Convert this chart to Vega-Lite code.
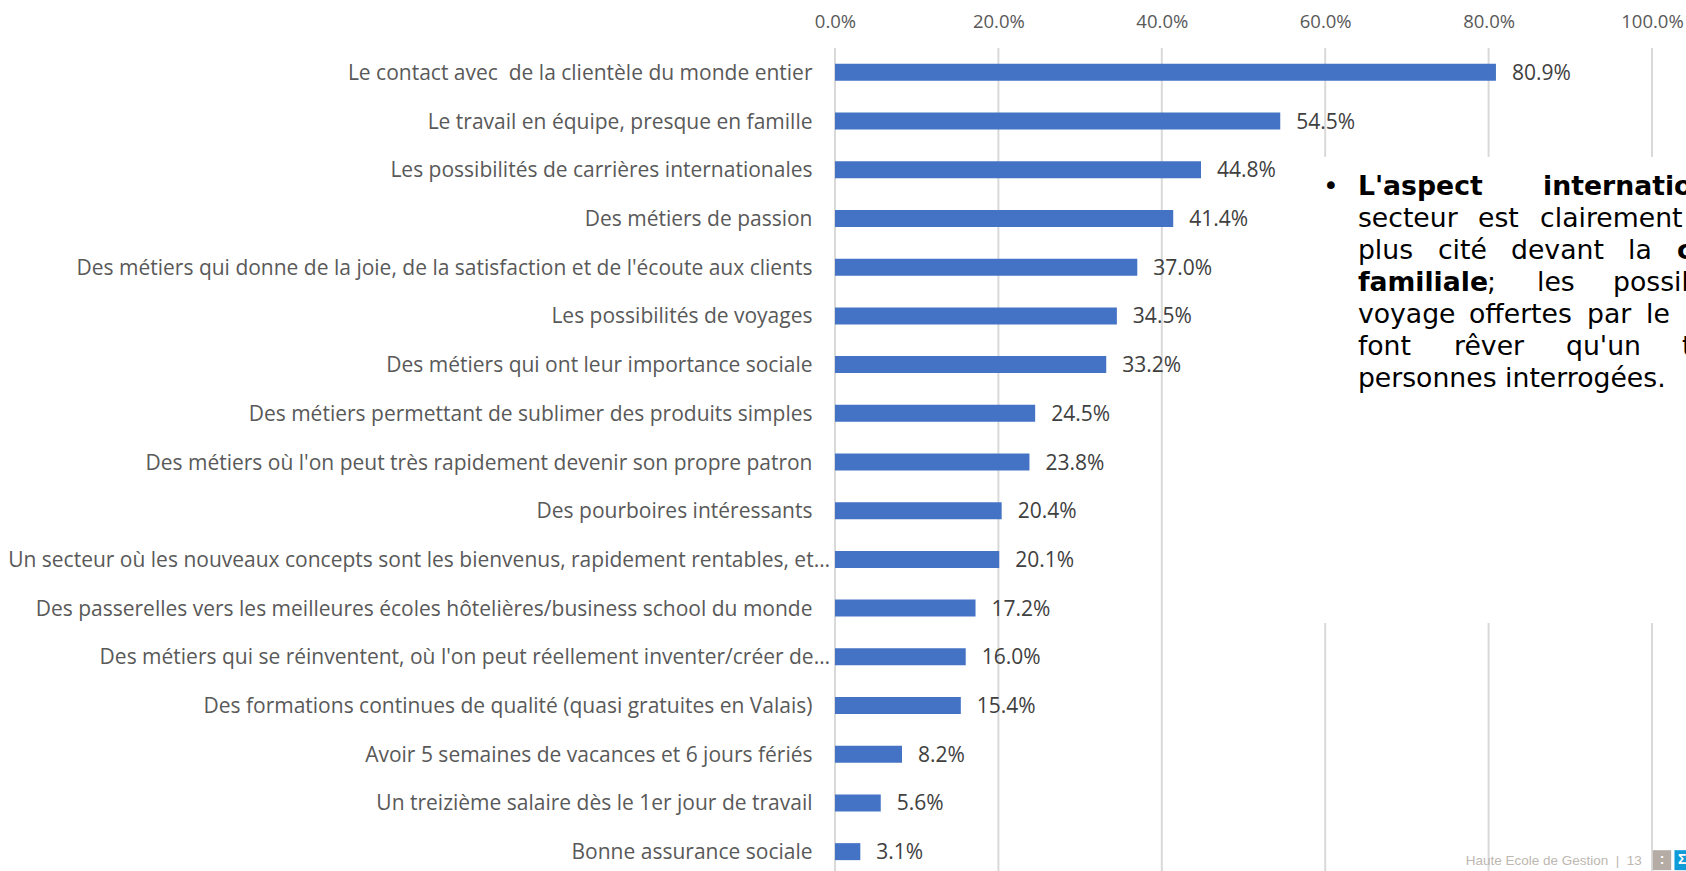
{
  "$schema": "https://vega.github.io/schema/vega-lite/v6.json",
  "autosize": "none",
  "width": 817,
  "height": 823,
  "padding": {"left": 835, "top": 48, "right": 34, "bottom": 0},
  "background": "white",
  "config": {"view": {"stroke": null}},
  "datasets": {
    "reasons": [
      {"motif": "Le contact avec\u00a0 de la clientèle du monde entier", "part": 0.809},
      {"motif": "Le travail en équipe, presque en famille", "part": 0.545},
      {"motif": "Les possibilités de carrières internationales", "part": 0.448},
      {"motif": "Des métiers de passion", "part": 0.414},
      {"motif": "Des métiers qui donne de la joie, de la satisfaction et de l'écoute aux clients", "part": 0.37},
      {"motif": "Les possibilités de voyages", "part": 0.345},
      {"motif": "Des métiers qui ont leur importance sociale", "part": 0.332},
      {"motif": "Des métiers permettant de sublimer des produits simples", "part": 0.245},
      {"motif": "Des métiers où l'on peut très rapidement devenir son propre patron", "part": 0.238},
      {"motif": "Des pourboires intéressants", "part": 0.204},
      {"motif": "Un secteur où les nouveaux concepts sont les bienvenus, rapidement rentables, et…", "part": 0.201},
      {"motif": "Des passerelles vers les meilleures écoles hôtelières/business school du monde", "part": 0.172},
      {"motif": "Des métiers qui se réinventent, où l'on peut réellement inventer/créer de…", "part": 0.16},
      {"motif": "Des formations continues de qualité (quasi gratuites en Valais)", "part": 0.154},
      {"motif": "Avoir 5 semaines de vacances et 6 jours fériés", "part": 0.082},
      {"motif": "Un treizième salaire dès le 1er jour de travail", "part": 0.056},
      {"motif": "Bonne assurance sociale", "part": 0.031}
    ],
    "grid": [
      {"tick": 0, "from": 0, "to": 17},
      {"tick": 0.2, "from": 0, "to": 17},
      {"tick": 0.4, "from": 0, "to": 17},
      {"tick": 0.6, "from": 0, "to": 2.236},
      {"tick": 0.6, "from": 11.805, "to": 17},
      {"tick": 0.8, "from": 0, "to": 2.236},
      {"tick": 0.8, "from": 11.805, "to": 17},
      {"tick": 1, "from": 0, "to": 2.236},
      {"tick": 1, "from": 11.805, "to": 17}
    ],
    "commentary": [
      {"word": "•", "at": 0.5973, "row": 3.01, "weight": "normal"},
      {"word": "L'aspect", "at": 0.64, "row": 3.01, "weight": "bold"},
      {"word": "international", "at": 0.8666, "row": 3.01, "weight": "bold"},
      {"word": "secteur", "at": 0.64, "row": 3.667, "weight": "normal"},
      {"word": "est", "at": 0.787, "row": 3.667, "weight": "normal"},
      {"word": "clairement", "at": 0.863, "row": 3.667, "weight": "normal"},
      {"word": "plus", "at": 0.64, "row": 4.324, "weight": "normal"},
      {"word": "cité", "at": 0.738, "row": 4.324, "weight": "normal"},
      {"word": "devant", "at": 0.8274, "row": 4.324, "weight": "normal"},
      {"word": "la", "at": 0.9706, "row": 4.324, "weight": "normal"},
      {"word": "c", "at": 1.0306, "row": 4.324, "weight": "bold"},
      {"word": "familiale", "at": 0.64, "row": 4.981, "weight": "bold"},
      {"word": ";", "at": 0.798, "row": 4.981, "weight": "normal"},
      {"word": "les", "at": 0.8592, "row": 4.981, "weight": "normal"},
      {"word": "possibilités", "at": 0.9523, "row": 4.981, "weight": "normal"},
      {"word": "voyage", "at": 0.64, "row": 5.638, "weight": "normal"},
      {"word": "offertes", "at": 0.776, "row": 5.638, "weight": "normal"},
      {"word": "par", "at": 0.9204, "row": 5.638, "weight": "normal"},
      {"word": "le", "at": 0.9927, "row": 5.638, "weight": "normal"},
      {"word": "secteur", "at": 1.0404, "row": 5.638, "weight": "normal"},
      {"word": "font", "at": 0.64, "row": 6.295, "weight": "normal"},
      {"word": "rêver", "at": 0.7577, "row": 6.295, "weight": "normal"},
      {"word": "qu'un", "at": 0.8947, "row": 6.295, "weight": "normal"},
      {"word": "tiers", "at": 1.0367, "row": 6.295, "weight": "normal"},
      {"word": "personnes interrogées.", "at": 0.64, "row": 6.952, "weight": "normal"}
    ],
    "badges": [
      {"start": 1.001, "end": 1.0235, "top": 16.47, "bottom": 16.88, "kind": "grey", "glyph": ":", "centre": 1.0122},
      {"start": 1.0275, "end": 1.05, "top": 16.47, "bottom": 16.88, "kind": "blue", "glyph": "Σ", "centre": 1.037}
    ]
  },
  "resolve": {"scale": {"y": "independent"}, "axis": {"x": "independent"}},
  "layer": [
    {
      "data": {"name": "grid"},
      "mark": {"type": "rule", "color": "#D9D9D9", "strokeWidth": 2},
      "encoding": {
        "x": {"field": "tick", "type": "quantitative", "scale": {"domain": [0, 1], "range": [0, 817]}, "axis": {"orient": "top", "values": [0, 0.2, 0.4, 0.6, 0.8, 1], "format": ".1%", "title": null, "grid": false, "domain": false, "ticks": false, "labelPadding": 17, "labelFontSize": 18.5, "labelFont": "Open Sans", "labelColor": "#595959", "labelFlush": false, "labelOverlap": false}},
        "y": {"field": "from", "type": "quantitative", "scale": {"domain": [0, 17], "range": [0, 828]}, "axis": null},
        "y2": {"field": "to"}
      }
    },
    {
      "data": {"name": "reasons"},
      "encoding": {
        "y": {"field": "motif", "type": "nominal", "sort": null, "scale": {"range": [0, 828], "paddingInner": 0.651, "paddingOuter": 0.3255}, "axis": {"title": null, "domain": false, "ticks": false, "grid": false, "labelPadding": 23, "labelOffset": 1.5, "labelLimit": 900, "labelFontSize": 21, "labelFont": "Open Sans", "labelColor": "#595959", "labelExpr": "indexof(datum.label, '…') >= 0 ? '' : datum.label"}}
      },
      "layer": [
        {
          "mark": {"type": "bar", "color": "#4472C4"},
          "encoding": {"x": {"field": "part", "type": "quantitative", "axis": null}}
        },
        {
          "mark": {"type": "text", "align": "left", "dx": 16, "dy": 1.5, "font": "Open Sans", "fontSize": 21, "color": "#404040"},
          "encoding": {
            "x": {"field": "part", "type": "quantitative", "axis": null},
            "text": {"field": "part", "type": "quantitative", "format": ".1%"}
          }
        },
        {
          "transform": [{"filter": "indexof(datum.motif, '…') >= 0"}],
          "mark": {"type": "text", "align": "right", "dx": -5, "dy": 1.5, "font": "Open Sans", "fontSize": 21, "color": "#595959"},
          "encoding": {
            "x": {"datum": 0, "type": "quantitative", "axis": null},
            "text": {"field": "motif"}
          }
        }
      ]
    },
    {
      "data": {"name": "commentary"},
      "transform": [{"filter": "datum.weight === 'normal'"}],
      "mark": {"type": "text", "align": "left", "baseline": "alphabetic", "font": "DejaVu Sans", "fontSize": 26.7, "color": "#000000"},
      "encoding": {
        "x": {"field": "at", "type": "quantitative", "axis": null},
        "y": {"field": "row", "type": "quantitative", "scale": {"domain": [0, 17], "range": [0, 828]}, "axis": null},
        "text": {"field": "word"}
      }
    },
    {
      "data": {"name": "commentary"},
      "transform": [{"filter": "datum.weight === 'bold'"}],
      "mark": {"type": "text", "align": "left", "baseline": "alphabetic", "font": "DejaVu Sans", "fontWeight": "bold", "fontSize": 26.7, "color": "#000000"},
      "encoding": {
        "x": {"field": "at", "type": "quantitative", "axis": null},
        "y": {"field": "row", "type": "quantitative", "scale": {"domain": [0, 17], "range": [0, 828]}, "axis": null},
        "text": {"field": "word"}
      }
    },
    {
      "data": {"name": "badges"},
      "mark": {"type": "rect"},
      "encoding": {
        "x": {"field": "start", "type": "quantitative", "axis": null},
        "x2": {"field": "end"},
        "y": {"field": "top", "type": "quantitative", "scale": {"domain": [0, 17], "range": [0, 828]}, "axis": null},
        "y2": {"field": "bottom"},
        "color": {"field": "kind", "type": "nominal", "scale": {"domain": ["grey", "blue"], "range": ["#B5ADA5", "#0E9BD8"]}, "legend": null}
      }
    },
    {
      "data": {"name": "badges"},
      "mark": {"type": "text", "align": "center", "baseline": "middle", "font": "Liberation Sans", "fontWeight": "bold", "fontSize": 14, "color": "#FFFFFF"},
      "encoding": {
        "x": {"field": "centre", "type": "quantitative", "axis": null},
        "y": {"datum": 16.67, "type": "quantitative", "scale": {"domain": [0, 17], "range": [0, 828]}, "axis": null},
        "text": {"field": "glyph"}
      }
    },
    {
      "data": {"values": [{"caption": "Haute Ecole de Gestion\u00a0 |\u00a0 13", "at": 0.772, "row": 16.77}]},
      "mark": {"type": "text", "align": "left", "baseline": "alphabetic", "font": "Liberation Sans", "fontSize": 13.5, "color": "#BDB7B0"},
      "encoding": {
        "x": {"field": "at", "type": "quantitative", "axis": null},
        "y": {"field": "row", "type": "quantitative", "scale": {"domain": [0, 17], "range": [0, 828]}, "axis": null},
        "text": {"field": "caption"}
      }
    }
  ]
}
